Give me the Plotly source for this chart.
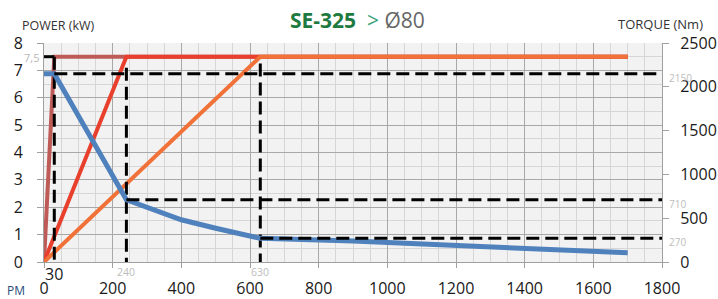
import plotly.graph_objects as go

# ---- data ----
rpm_p1 = [0, 30, 1700]
pow_p1 = [0, 7.5, 7.5]
rpm_p2 = [0, 240, 1700]
pow_p2 = [0, 7.5, 7.5]
rpm_p3 = [0, 630, 1700]
pow_p3 = [0, 7.5, 7.5]

rpm_t = [0, 30, 240, 400, 500, 630, 900, 1200, 1400, 1700]
torque_t = [2150, 2150, 710, 482, 385, 270, 240, 185, 148, 105]

mark_rpm = [30, 240, 630]
mark_torque = [2150, 710, 270]
mark_top = [7.5, 7.1, 7.25]
p_max = 7.5

x_ticks = [0, 200, 400, 600, 800, 1000, 1200, 1400, 1600, 1800]
y_ticks = [0, 1, 2, 3, 4, 5, 6, 7, 8]
y2_ticks = [0, 500, 1000, 1500, 2000, 2500]

T_MAX = 2500
P_MAX_AX = 8

fig = go.Figure()

FONT = "Open Sans"
L, R, T, B = 44, 56, 43, 37
PW = 718 - L - R


def dash_line(xs, ys, yaxis="y"):
    fig.add_trace(go.Scatter(x=xs, y=ys, mode="lines", yaxis=yaxis,
                             line=dict(color="black", width=3, dash="13px,6px"),
                             hoverinfo="skip", showlegend=False))


# power curves
fig.add_trace(go.Scatter(x=rpm_p1, y=pow_p1, mode="lines",
                         line=dict(color="#bf5b57", width=4), showlegend=False))
fig.add_trace(go.Scatter(x=rpm_p2, y=pow_p2, mode="lines",
                         line=dict(color="#e8402c", width=4), showlegend=False))
fig.add_trace(go.Scatter(x=rpm_p3, y=pow_p3, mode="lines",
                         line=dict(color="#f07238", width=4), showlegend=False))

# short solid at 7.5
fig.add_trace(go.Scatter(x=[0, mark_rpm[0]], y=[p_max, p_max], mode="lines",
                         line=dict(color="black", width=3), showlegend=False))
# verticals
for r, top in zip(mark_rpm, mark_top):
    dash_line([r, r], [top, 0])

# torque curve
fig.add_trace(go.Scatter(x=rpm_t, y=torque_t, mode="lines", yaxis="y2",
                         line=dict(color="#4f81bd", width=5), showlegend=False))

# horizontals (torque levels)
for r, t in zip(mark_rpm, mark_torque):
    dash_line([r, 1800], [t, t], yaxis="y2")

tickfont = dict(family=FONT, size=16, color="#1a1a1a")

fig.update_layout(
    width=718, height=299,
    margin=dict(l=L, r=R, t=T, b=B, autoexpand=False),
    paper_bgcolor="white",
    plot_bgcolor="#f2f2f2",
    xaxis=dict(range=[0, 1800], tickvals=x_ticks, ticktext=[str(v) for v in x_ticks],
               showgrid=True, gridcolor="#a8a8a8", gridwidth=1,
               minor=dict(dtick=50, showgrid=True, gridcolor="#d6d6d6", gridwidth=1),
               ticks="outside", ticklen=5, tickcolor="#a0a0a0",
               showline=True, linecolor="#a0a0a0", zeroline=False, automargin=False,
               tickfont=tickfont, ticklabelstandoff=7),
    yaxis=dict(range=[0, P_MAX_AX], tickvals=y_ticks,
               showgrid=True, gridcolor="#a8a8a8", gridwidth=1,
               minor=dict(dtick=0.5, showgrid=True, gridcolor="#d6d6d6", gridwidth=1),
               ticks="outside", ticklen=6, tickcolor="#a0a0a0",
               showline=True, linecolor="#a0a0a0", zeroline=False, automargin=False,
               tickfont=tickfont, ticklabelstandoff=11),
    yaxis2=dict(range=[0, T_MAX], tickvals=y2_ticks, overlaying="y", side="right",
                showgrid=False, zeroline=False, automargin=False,
                ticks="outside", ticklen=6, tickcolor="#a0a0a0",
                showline=True, linecolor="#a0a0a0",
                tickfont=tickfont, ticklabelstandoff=8),
)

ann = []
# title
ann.append(dict(xref="paper", yref="paper", x=(357 - L) / PW, y=1, yshift=23,
                xanchor="center", yanchor="middle", showarrow=False,
                text="<b>SE-325</b>  <span style='color:#3aa27a'>&gt;</span> <span style='color:#666666'>Ø80</span>",
                font=dict(family=FONT, size=21, color="#1f7a3f")))
ann.append(dict(xref="paper", yref="paper", x=(20 - L) / PW, y=1, yshift=18,
                xanchor="left", yanchor="middle", showarrow=False,
                text="POWER (kW)", font=dict(family=FONT, size=12.5, color="#333333")))
ann.append(dict(xref="paper", yref="paper", x=(705 - L) / PW, y=1, yshift=19,
                xanchor="right", yanchor="middle", showarrow=False,
                text="TORQUE (Nm)", font=dict(family=FONT, size=13, color="#333333")))
ann.append(dict(xref="paper", yref="paper", x=(5 - L) / PW, y=0, yshift=-28,
                xanchor="left", yanchor="middle", showarrow=False,
                text="PM", font=dict(family=FONT, size=12, color="#2a4a7a")))
# 7,5 label
ann.append(dict(xref="paper", yref="y", x=0, y=p_max, xshift=-3, yshift=-1,
                xanchor="right", yanchor="middle", showarrow=False,
                text="7,5", font=dict(family=FONT, size=11, color="#b8b8b8")))
# rpm markers
ann.append(dict(xref="x", yref="paper", x=mark_rpm[0], y=0, yshift=-12,
                xanchor="center", yanchor="middle", showarrow=False,
                text=str(mark_rpm[0]), font=dict(family=FONT, size=16, color="#1a1a1a")))
for r in mark_rpm[1:]:
    ann.append(dict(xref="x", yref="paper", x=r, y=0, yshift=-10,
                    xanchor="center", yanchor="middle", showarrow=False,
                    text=str(r), font=dict(family=FONT, size=10.5, color="#bdbdbd")))
# torque markers
for t in mark_torque:
    ann.append(dict(xref="paper", yref="y2", x=1, y=t, xshift=5, yshift=-4,
                    xanchor="left", yanchor="middle", showarrow=False,
                    text=str(t), font=dict(family=FONT, size=10, color="#bdbdbd")))

fig.update_layout(annotations=ann)
fig.write_html("out.html", config={"displayModeBar": False},
               post_script="document.body.style.margin='0';document.body.style.overflow='hidden';")
